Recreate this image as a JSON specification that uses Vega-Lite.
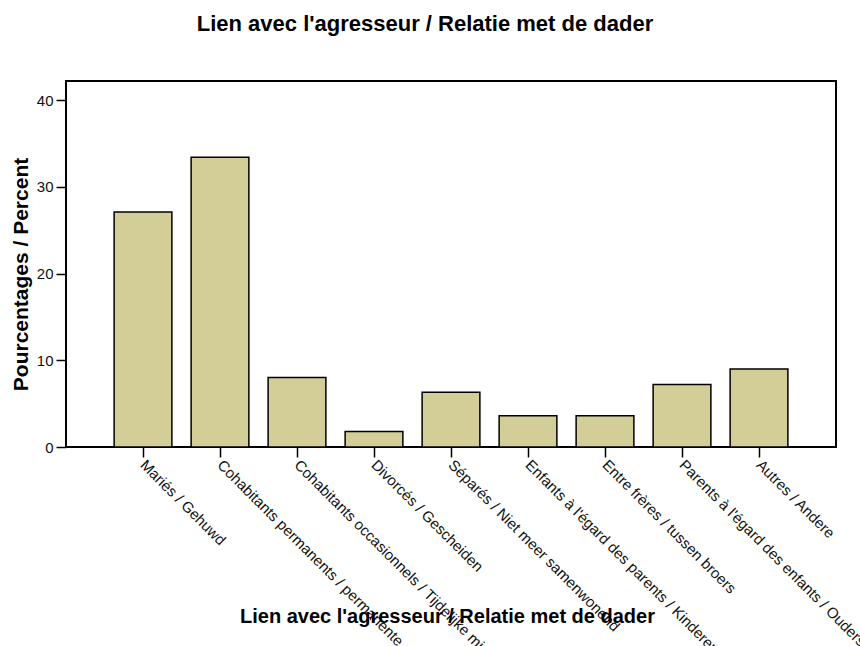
{
  "$schema": "https://vega.github.io/schema/vega-lite/v6.json",
  "width": 770,
  "height": 366,
  "autosize": "none",
  "padding": {"left": 66, "top": 81, "right": 24, "bottom": 199},
  "background": "white",
  "title": {
    "text": "Lien avec l'agresseur / Relatie met de dader",
    "font": "Liberation Sans",
    "fontSize": 22,
    "fontWeight": "bold",
    "color": "black",
    "anchor": "middle",
    "baseline": "alphabetic",
    "offset": 28,
    "dx": -26
  },
  "config": {
    "view": {"stroke": "black", "strokeWidth": 2},
    "axis": {
      "labelFont": "Liberation Sans",
      "titleFont": "Liberation Sans",
      "labelColor": "#111111",
      "titleColor": "black",
      "tickColor": "black",
      "tickWidth": 1.5,
      "tickSize": 10,
      "grid": false,
      "domain": false
    }
  },
  "data": {
    "values": [
      {"lien": "Mariés / Gehuwd", "pct": 27.1},
      {"lien": "Cohabitants permanents / permanente samenwonenden", "pct": 33.4},
      {"lien": "Cohabitants occasionnels / Tijdelijke minnaars", "pct": 8.0},
      {"lien": "Divorcés / Gescheiden", "pct": 1.8},
      {"lien": "Séparés / Niet meer samenwonend", "pct": 6.3},
      {"lien": "Enfants à l'égard des parents / Kinderen tegenover ouders", "pct": 3.6},
      {"lien": "Entre frères / tussen broers", "pct": 3.6},
      {"lien": "Parents à l'égard des enfants / Ouders tegenover kinderen", "pct": 7.2},
      {"lien": "Autres / Andere", "pct": 9.0}
    ]
  },
  "mark": {"type": "bar", "color": "#D3CE98", "stroke": "black", "strokeWidth": 1.5},
  "encoding": {
    "x": {
      "field": "lien",
      "type": "nominal",
      "sort": null,
      "scale": {"paddingInner": 0.25, "paddingOuter": 0.625},
      "axis": {
        "title": "Lien avec l'agresseur / Relatie met de dader",
        "titleFontSize": 20,
        "titleFontWeight": "bold",
        "titleX": 381,
        "titleY": 175,
        "titleAlign": "center",
        "titleBaseline": "alphabetic",
        "labelAngle": 45,
        "labelAlign": "left",
        "labelBaseline": "middle",
        "labelFontSize": 15,
        "labelLimit": 0,
        "labelPadding": 5
      }
    },
    "y": {
      "field": "pct",
      "type": "quantitative",
      "scale": {"domain": [0, 42.2], "nice": false},
      "axis": {
        "title": "Pourcentages / Percent",
        "titleFontSize": 21,
        "titleFontWeight": "bold",
        "titleAngle": -90,
        "titleX": -45,
        "titleY": 193,
        "titleAlign": "center",
        "titleBaseline": "middle",
        "values": [0, 10, 20, 30, 40],
        "labelFontSize": 15,
        "labelPadding": 3
      }
    }
  }
}
